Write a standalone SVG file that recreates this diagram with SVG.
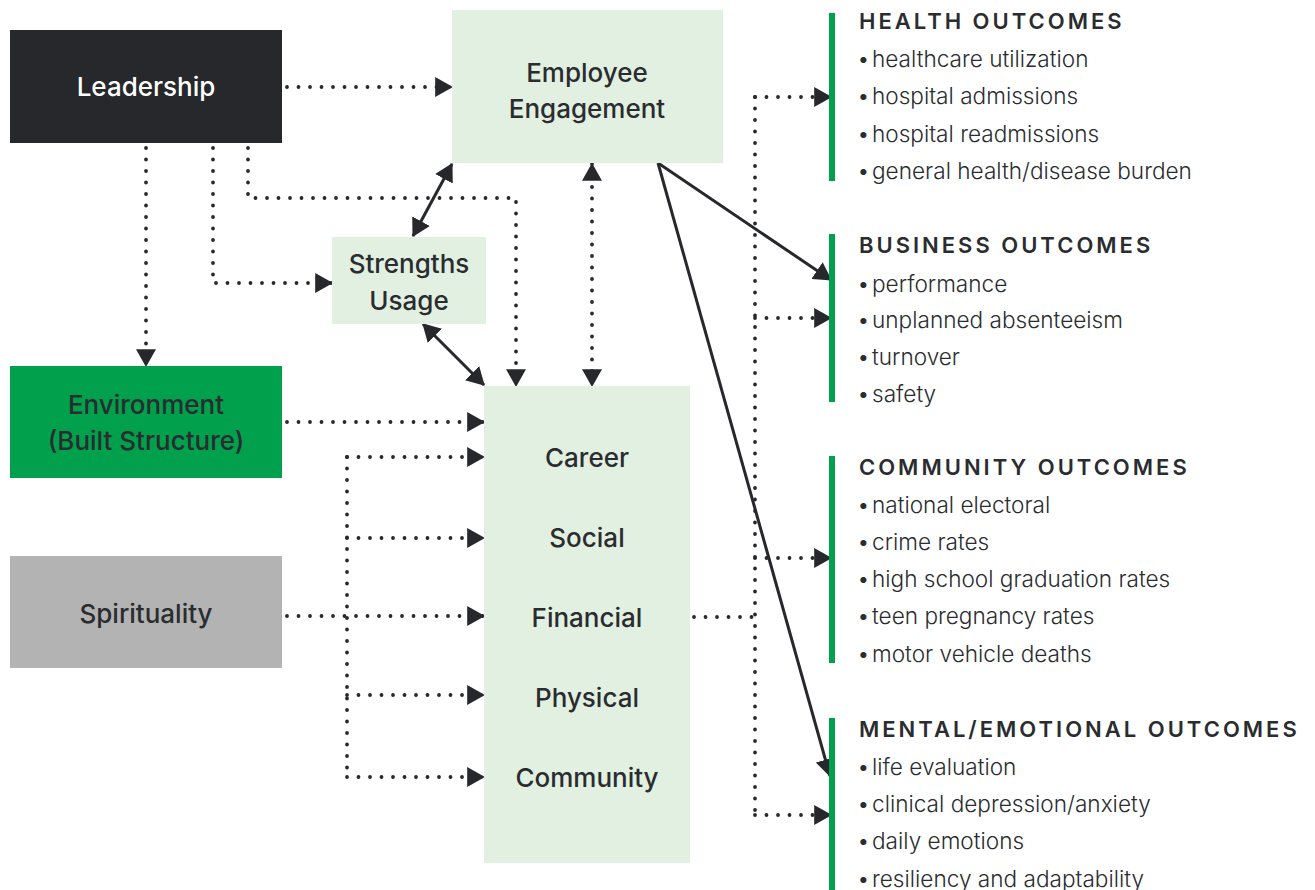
<svg xmlns="http://www.w3.org/2000/svg" width="1315" height="890" viewBox="0 0 1315 890">
  <style>
    .label { font-family: Inter, "Noto Sans", "Liberation Sans", sans-serif; font-size: 26px; font-weight: 500; fill: #2a2c2f; text-anchor: middle; }
    .label.light { fill: #ffffff; }
    .head { font-family: Inter, "Noto Sans", "Liberation Sans", sans-serif; font-size: 22px; font-weight: 600; letter-spacing: 3px; fill: #2a2c2f; }
    .item { font-family: Inter, "Noto Sans", "Liberation Sans", sans-serif; font-size: 22.6px; font-weight: 300; fill: #2a2c2f; }
    .dot { fill: none; stroke: #26282b; stroke-width: 3.8; stroke-linecap: round; stroke-dasharray: 0 11.5; }
    .solid { fill: none; stroke: #26282b; stroke-width: 3; }
    .bar { fill: #00a04c; }
  </style>
  <defs>
    <marker id="tri" markerUnits="userSpaceOnUse" markerWidth="18" markerHeight="20" viewBox="0 0 17 19" refX="16" refY="9.5" orient="auto-start-reverse">
      <path d="M0,0 L17,9.5 L0,19 Z" fill="#26282b"/>
    </marker>
  </defs>

  <rect width="1315" height="890" fill="#ffffff"/>

  <!-- connectors -->
  <g id="connectors">
    <!-- leadership outputs -->
    <path class="dot" d="M287,87 H452" marker-end="url(#tri)"/>
    <path class="dot" d="M146,148 V366" marker-end="url(#tri)"/>
    <path class="dot" d="M213,148 V283 H332" marker-end="url(#tri)"/>
    <path class="dot" d="M248,148 V198 H516 V386" marker-end="url(#tri)"/>
    <!-- engagement links -->
    <path class="solid" d="M413,236 L452,164" marker-start="url(#tri)" marker-end="url(#tri)"/>
    <path class="dot" d="M592,164 V386" marker-start="url(#tri)" marker-end="url(#tri)"/>
    <path class="solid" d="M423,324 L484,385" marker-start="url(#tri)" marker-end="url(#tri)"/>
    <path class="solid" d="M658,163 L831,280" marker-end="url(#tri)"/>
    <path class="solid" d="M658,163 L830,776" marker-end="url(#tri)"/>
    <!-- environment and spirituality -->
    <path class="dot" d="M287,422 H484" marker-end="url(#tri)"/>
    <path class="dot" d="M287,616 H484" marker-end="url(#tri)"/>
    <!-- wellbeing bus -->
    <path class="dot" d="M347,457 V777"/>
    <path class="dot" d="M347,457 H484" marker-end="url(#tri)"/>
    <path class="dot" d="M347,538 H484" marker-end="url(#tri)"/>
    <path class="dot" d="M347,695 H484" marker-end="url(#tri)"/>
    <path class="dot" d="M347,777 H484" marker-end="url(#tri)"/>
    <!-- outcomes bus -->
    <path class="dot" d="M694,617 H755"/>
    <path class="dot" d="M755,97 V815"/>
    <path class="dot" d="M755,97 H831" marker-end="url(#tri)"/>
    <path class="dot" d="M755,318 H831" marker-end="url(#tri)"/>
    <path class="dot" d="M755,558 H831" marker-end="url(#tri)"/>
    <path class="dot" d="M755,815 H831" marker-end="url(#tri)"/>
  </g>

  <!-- nodes -->
  <g id="leadership">
    <rect x="10" y="30" width="272" height="113" fill="#26282b"/>
    <text class="label light" x="146" y="96">Leadership</text>
  </g>
  <g id="employee-engagement">
    <rect x="452" y="10" width="271" height="153" fill="#e2f0e2"/>
    <text class="label" x="587" y="82">Employee</text>
    <text class="label" x="587" y="118">Engagement</text>
  </g>
  <g id="strengths-usage">
    <rect x="332" y="237" width="154" height="87" fill="#e2f0e2"/>
    <text class="label" x="409" y="273">Strengths</text>
    <text class="label" x="409" y="310">Usage</text>
  </g>
  <g id="environment">
    <rect x="10" y="366" width="272" height="112" fill="#00a04c"/>
    <text class="label" x="146" y="414">Environment</text>
    <text class="label" x="146" y="450">(Built Structure)</text>
  </g>
  <g id="spirituality">
    <rect x="10" y="556" width="272" height="112" fill="#b2b3b2"/>
    <text class="label" x="146" y="623">Spirituality</text>
  </g>
  <g id="wellbeing">
    <rect x="484" y="386" width="206" height="477" fill="#e2f0e2"/>
    <text class="label" x="587" y="467">Career</text>
    <text class="label" x="587" y="547">Social</text>
    <text class="label" x="587" y="627">Financial</text>
    <text class="label" x="587" y="707">Physical</text>
    <text class="label" x="587" y="787">Community</text>
  </g>

  <g id="health-outcomes">
    <rect class="bar" x="829" y="13" width="6" height="168"/>
    <text class="head" x="859" y="29">HEALTH OUTCOMES</text>
    <text class="item" y="67"><tspan x="857">•</tspan><tspan x="872">healthcare utilization</tspan></text>
    <text class="item" y="104"><tspan x="857">•</tspan><tspan x="872">hospital admissions</tspan></text>
    <text class="item" y="142"><tspan x="857">•</tspan><tspan x="872">hospital readmissions</tspan></text>
    <text class="item" y="179"><tspan x="857">•</tspan><tspan x="872">general health/disease burden</tspan></text>
  </g>
  <g id="business-outcomes">
    <rect class="bar" x="829" y="234" width="6" height="168"/>
    <text class="head" x="859" y="253">BUSINESS OUTCOMES</text>
    <text class="item" y="292"><tspan x="857">•</tspan><tspan x="872">performance</tspan></text>
    <text class="item" y="328"><tspan x="857">•</tspan><tspan x="872">unplanned absenteeism</tspan></text>
    <text class="item" y="365"><tspan x="857">•</tspan><tspan x="872">turnover</tspan></text>
    <text class="item" y="402"><tspan x="857">•</tspan><tspan x="872">safety</tspan></text>
  </g>
  <g id="community-outcomes">
    <rect class="bar" x="829" y="456" width="6" height="207"/>
    <text class="head" x="859" y="475">COMMUNITY OUTCOMES</text>
    <text class="item" y="513"><tspan x="857">•</tspan><tspan x="872">national electoral</tspan></text>
    <text class="item" y="550"><tspan x="857">•</tspan><tspan x="872">crime rates</tspan></text>
    <text class="item" y="587"><tspan x="857">•</tspan><tspan x="872">high school graduation rates</tspan></text>
    <text class="item" y="624"><tspan x="857">•</tspan><tspan x="872">teen pregnancy rates</tspan></text>
    <text class="item" y="662"><tspan x="857">•</tspan><tspan x="872">motor vehicle deaths</tspan></text>
  </g>
  <g id="mental-emotional-outcomes">
    <rect class="bar" x="829" y="718" width="6" height="172"/>
    <text class="head" x="859" y="737">MENTAL/EMOTIONAL OUTCOMES</text>
    <text class="item" y="775"><tspan x="857">•</tspan><tspan x="872">life evaluation</tspan></text>
    <text class="item" y="812"><tspan x="857">•</tspan><tspan x="872">clinical depression/anxiety</tspan></text>
    <text class="item" y="849"><tspan x="857">•</tspan><tspan x="872">daily emotions</tspan></text>
    <text class="item" y="887"><tspan x="857">•</tspan><tspan x="872">resiliency and adaptability</tspan></text>
  </g>
</svg>
